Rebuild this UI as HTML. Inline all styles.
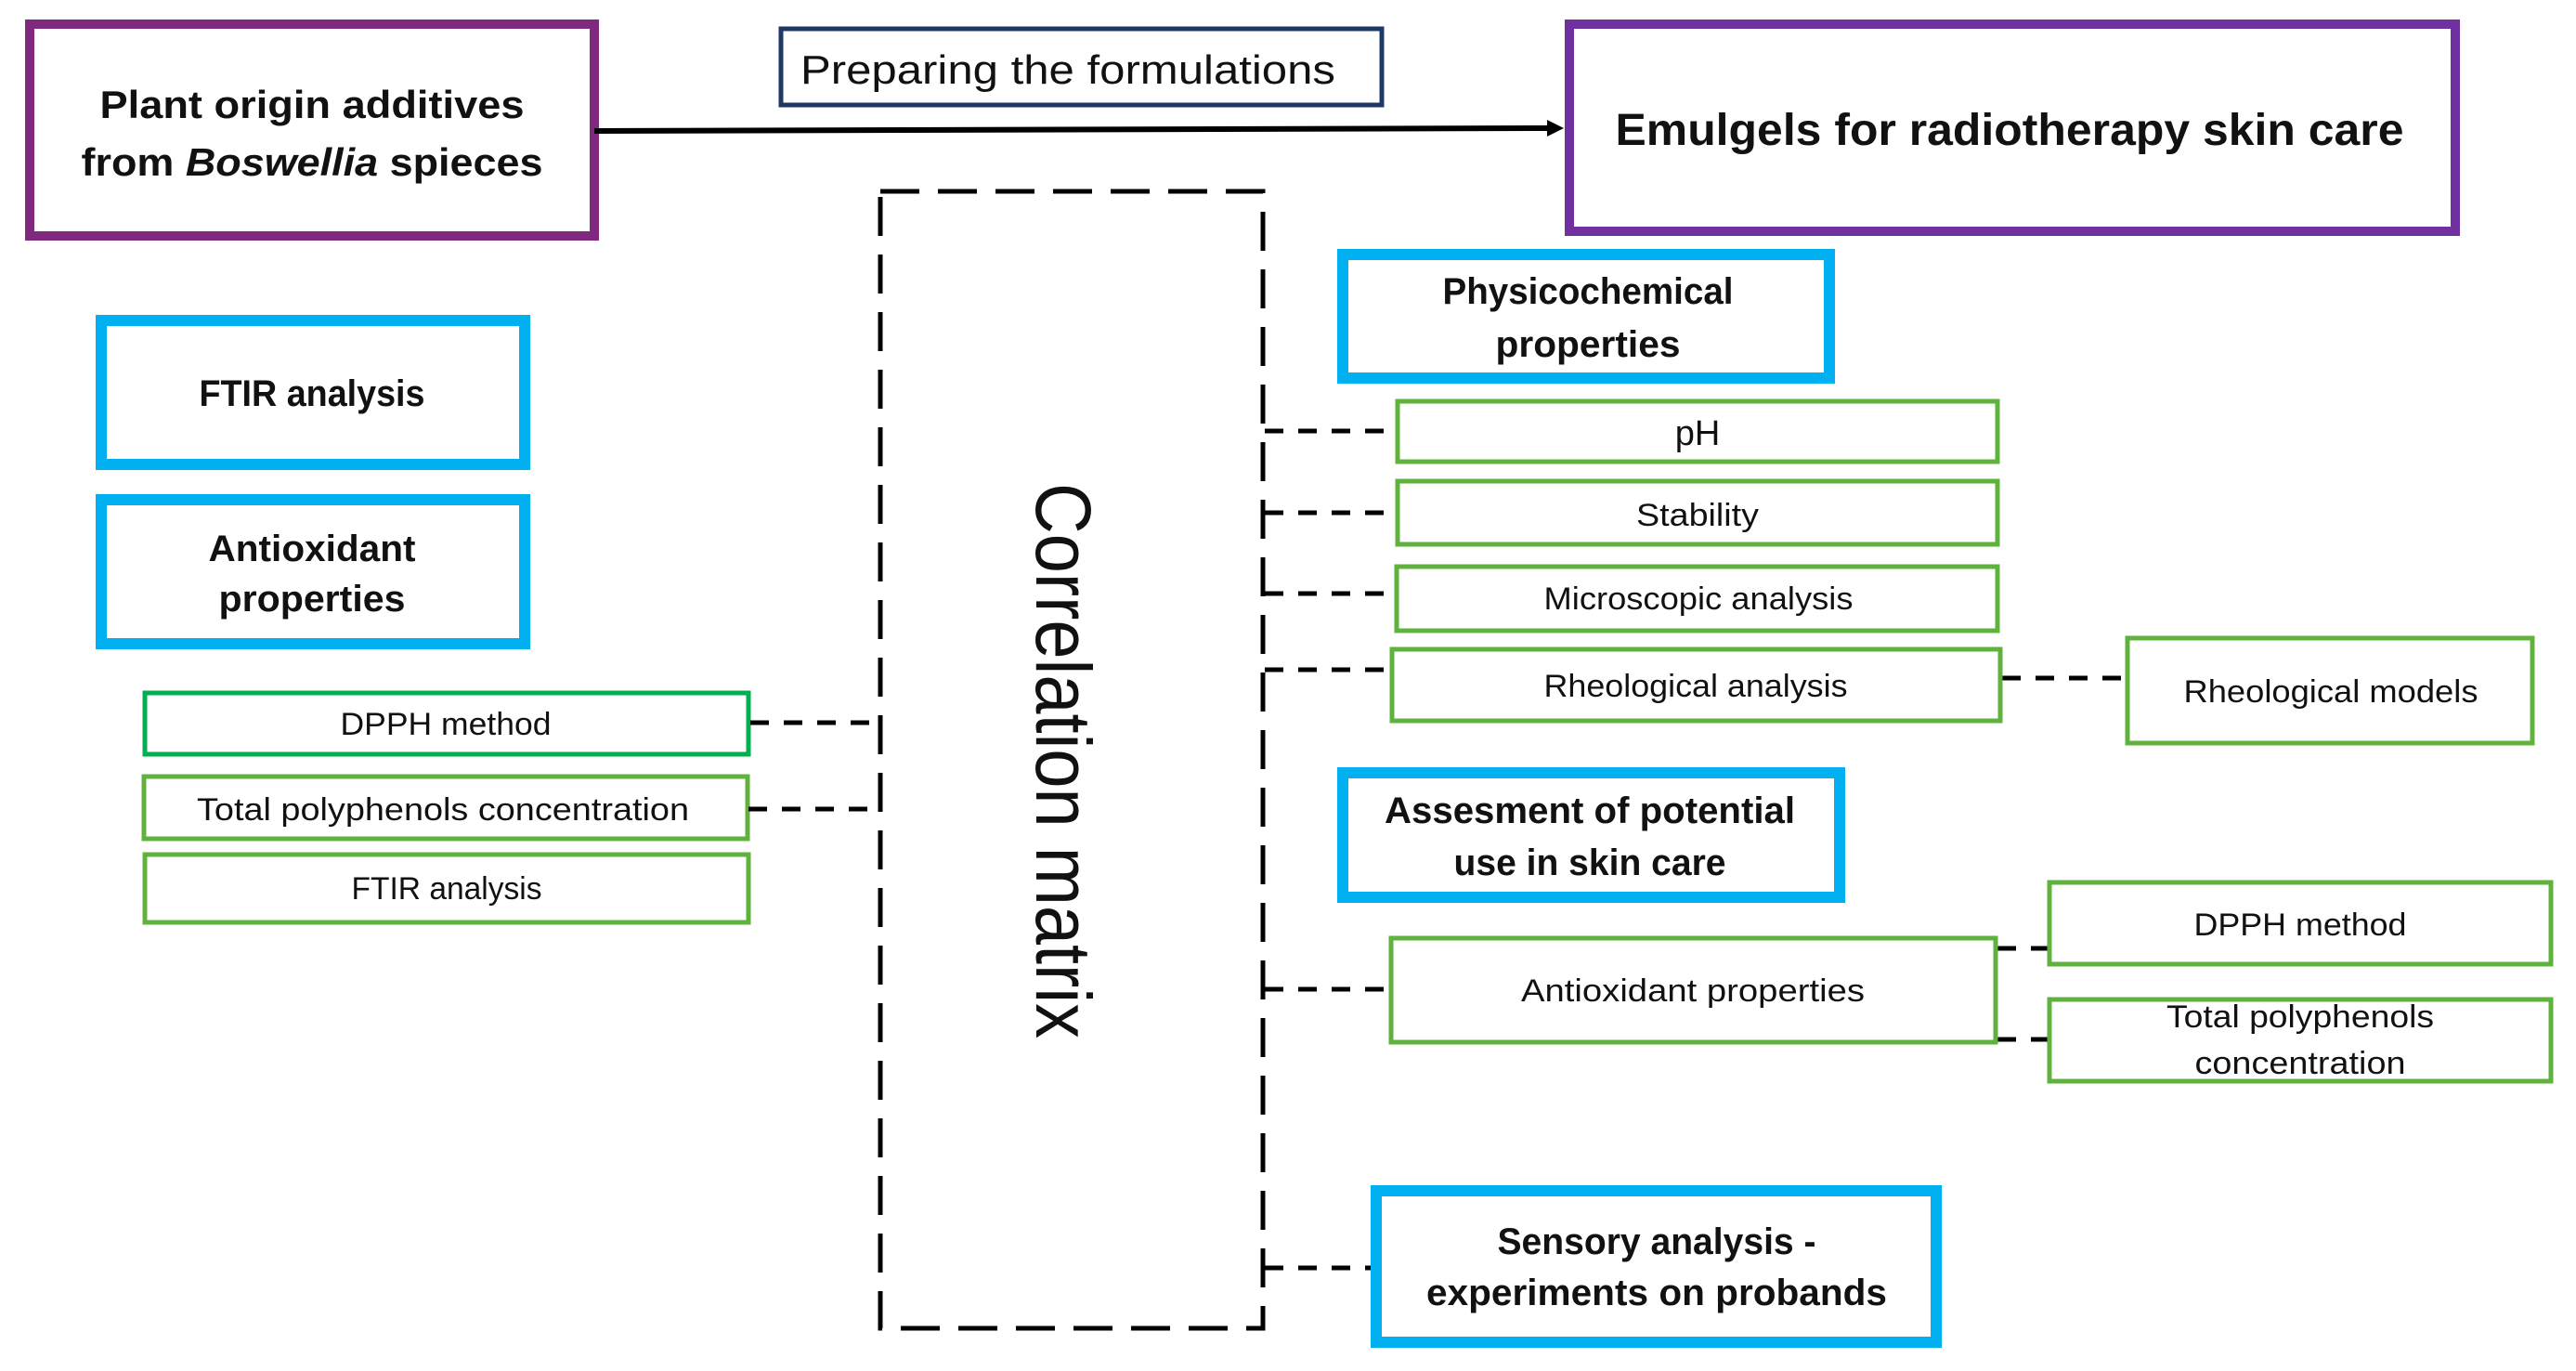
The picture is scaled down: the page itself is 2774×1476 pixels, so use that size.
<!DOCTYPE html>
<html><head><meta charset="utf-8"><style>
html,body{margin:0;padding:0;background:#fff;}
svg{display:block;}
text{font-family:"Liberation Sans",sans-serif;fill:#111;}
.b{font-weight:bold;}
</style></head><body>
<svg width="2774" height="1476" viewBox="0 0 2774 1476" xmlns="http://www.w3.org/2000/svg">

<!-- top boxes -->
<rect x="32" y="26" width="608" height="228" fill="none" stroke="#7f2a7f" stroke-width="10"/>
<text class="b" x="336" y="127" font-size="42" text-anchor="middle" textLength="457" lengthAdjust="spacingAndGlyphs">Plant origin additives</text>
<text class="b" x="336" y="189" font-size="42" text-anchor="middle" textLength="497" lengthAdjust="spacingAndGlyphs">from <tspan font-style="italic">Boswellia</tspan> spieces</text>

<rect x="841" y="31" width="647" height="82" fill="none" stroke="#1f3864" stroke-width="5"/>
<text x="1150" y="90" font-size="44" text-anchor="middle" textLength="576" lengthAdjust="spacingAndGlyphs">Preparing the formulations</text>

<line x1="640" y1="141" x2="1668" y2="138" stroke="#000" stroke-width="6"/>
<path d="M1666,129 L1684,138 L1666,147 z" fill="#000"/>

<rect x="1690" y="26" width="954" height="223" fill="none" stroke="#7030a0" stroke-width="10"/>
<text class="b" x="2164" y="156" font-size="48" text-anchor="middle" textLength="849" lengthAdjust="spacingAndGlyphs">Emulgels for radiotherapy skin care</text>

<!-- left blue boxes -->
<rect x="109" y="345" width="456" height="155" fill="none" stroke="#00b0f0" stroke-width="12"/>
<text class="b" x="336" y="437" font-size="40" text-anchor="middle" textLength="243" lengthAdjust="spacingAndGlyphs">FTIR analysis</text>
<rect x="109" y="538" width="456" height="155" fill="none" stroke="#00b0f0" stroke-width="12"/>
<text class="b" x="336" y="604" font-size="40" text-anchor="middle" textLength="223" lengthAdjust="spacingAndGlyphs">Antioxidant</text>
<text class="b" x="336" y="658" font-size="40" text-anchor="middle" textLength="201" lengthAdjust="spacingAndGlyphs">properties</text>

<!-- left green -->
<rect x="156" y="746" width="650" height="66" fill="none" stroke="#00b050" stroke-width="5"/>
<text x="480" y="791" font-size="34" text-anchor="middle" textLength="227" lengthAdjust="spacingAndGlyphs">DPPH method</text>
<rect x="155" y="836" width="650" height="67" fill="none" stroke="#5fb33c" stroke-width="5"/>
<text x="477" y="883" font-size="34" text-anchor="middle" textLength="530" lengthAdjust="spacingAndGlyphs">Total polyphenols concentration</text>
<rect x="156" y="920" width="650" height="73" fill="none" stroke="#5fb33c" stroke-width="5"/>
<text x="481" y="968" font-size="34" text-anchor="middle" textLength="205" lengthAdjust="spacingAndGlyphs">FTIR analysis</text>

<!-- dashed correlation rect -->
<rect x="948" y="206" width="412" height="1224" fill="none" stroke="#000" stroke-width="5" stroke-dasharray="42 20"/>
<text x="1116" y="819" font-size="84" text-anchor="middle" transform="rotate(90 1116 819)" textLength="598" lengthAdjust="spacingAndGlyphs">Correlation matrix</text>

<!-- connectors -->
<g stroke="#000" stroke-width="5" stroke-dasharray="20 16" fill="none">
<line x1="808" y1="778" x2="948" y2="778"/>
<line x1="806" y1="871" x2="948" y2="871"/>
<line x1="1362" y1="464" x2="1503" y2="464"/>
<line x1="1362" y1="552" x2="1503" y2="552"/>
<line x1="1362" y1="639" x2="1503" y2="639"/>
<line x1="1362" y1="721" x2="1497" y2="721"/>
<line x1="2156" y1="730" x2="2289" y2="730"/>
<line x1="1362" y1="1065" x2="1496" y2="1065"/>
<line x1="2151" y1="1021" x2="2205" y2="1021"/>
<line x1="2151" y1="1119" x2="2205" y2="1119"/>
<line x1="1362" y1="1365" x2="1476" y2="1365"/>
</g>

<!-- right blue -->
<rect x="1446" y="274" width="524" height="133" fill="none" stroke="#00b0f0" stroke-width="12"/>
<text class="b" x="1710" y="327" font-size="40" text-anchor="middle" textLength="313" lengthAdjust="spacingAndGlyphs">Physicochemical</text>
<text class="b" x="1710" y="384" font-size="40" text-anchor="middle" textLength="199" lengthAdjust="spacingAndGlyphs">properties</text>

<rect x="1505" y="432" width="646" height="65" fill="none" stroke="#5fb33c" stroke-width="5"/>
<text x="1828" y="479" font-size="38" text-anchor="middle">pH</text>
<rect x="1505" y="518" width="646" height="68" fill="none" stroke="#5fb33c" stroke-width="5"/>
<text x="1828" y="566" font-size="34" text-anchor="middle" textLength="132" lengthAdjust="spacingAndGlyphs">Stability</text>
<rect x="1504" y="610" width="647" height="69" fill="none" stroke="#5fb33c" stroke-width="5"/>
<text x="1829" y="656" font-size="34" text-anchor="middle" textLength="333" lengthAdjust="spacingAndGlyphs">Microscopic analysis</text>
<rect x="1499" y="699" width="655" height="77" fill="none" stroke="#5fb33c" stroke-width="5"/>
<text x="1826" y="750" font-size="34" text-anchor="middle" textLength="327" lengthAdjust="spacingAndGlyphs">Rheological analysis</text>
<rect x="2291" y="687" width="436" height="113" fill="none" stroke="#5fb33c" stroke-width="5"/>
<text x="2510" y="756" font-size="34" text-anchor="middle" textLength="317" lengthAdjust="spacingAndGlyphs">Rheological models</text>

<rect x="1446" y="832" width="535" height="134" fill="none" stroke="#00b0f0" stroke-width="12"/>
<text class="b" x="1712" y="886" font-size="40" text-anchor="middle" textLength="442" lengthAdjust="spacingAndGlyphs">Assesment of potential</text>
<text class="b" x="1712" y="942" font-size="40" text-anchor="middle" textLength="293" lengthAdjust="spacingAndGlyphs">use in skin care</text>

<rect x="1498" y="1010" width="651" height="112" fill="none" stroke="#5fb33c" stroke-width="5"/>
<text x="1823" y="1078" font-size="34" text-anchor="middle" textLength="370" lengthAdjust="spacingAndGlyphs">Antioxidant properties</text>
<rect x="2207" y="950" width="540" height="88" fill="none" stroke="#5fb33c" stroke-width="5"/>
<text x="2477" y="1007" font-size="34" text-anchor="middle" textLength="229" lengthAdjust="spacingAndGlyphs">DPPH method</text>
<rect x="2207" y="1076" width="540" height="88" fill="none" stroke="#5fb33c" stroke-width="5"/>
<text x="2477" y="1106" font-size="34" text-anchor="middle" textLength="288" lengthAdjust="spacingAndGlyphs">Total polyphenols</text>
<text x="2477" y="1156" font-size="34" text-anchor="middle" textLength="227" lengthAdjust="spacingAndGlyphs">concentration</text>

<rect x="1482" y="1282" width="603" height="163" fill="none" stroke="#00b0f0" stroke-width="12"/>
<text class="b" x="1784" y="1350" font-size="40" text-anchor="middle" textLength="343" lengthAdjust="spacingAndGlyphs">Sensory analysis -</text>
<text class="b" x="1784" y="1405" font-size="40" text-anchor="middle" textLength="496" lengthAdjust="spacingAndGlyphs">experiments on probands</text>
</svg>
</body></html>
